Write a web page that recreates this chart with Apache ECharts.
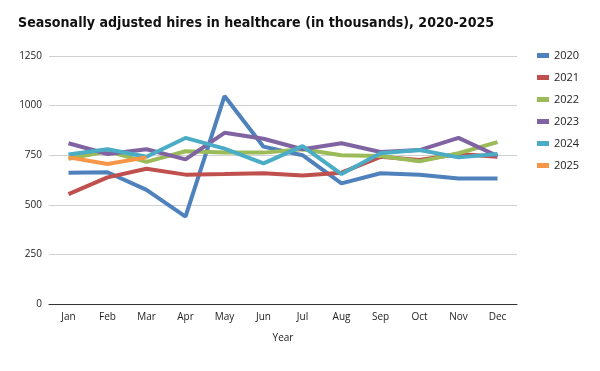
<!DOCTYPE html>
<html><head><meta charset="utf-8">
<script src="https://cdn.jsdelivr.net/npm/echarts@6/dist/echarts.min.js"></script>
<style>html,body{margin:0;padding:0;background:#fff}#c{width:600px;height:371px}</style>
</head><body><div id="c"></div>
<script>
const months = ['Jan','Feb','Mar','Apr','May','Jun','Jul','Aug','Sep','Oct','Nov','Dec'];
const y2020 = [662,664,575,440,1048,793,750,608,659,652,633,633];
const y2021 = [554,638,682,652,655,659,648,662,742,726,756,742];
const y2022 = [732,770,716,770,763,763,780,750,746,719,760,816];
const y2023 = [810,756,780,729,863,833,780,810,766,776,837,746];
const y2024 = [753,780,742,837,783,709,796,655,760,776,739,756];
const y2025 = [739,706,739];
const yTicks = [0,250,500,750,1000,1250];
const seriesNames = ['2020','2021','2022','2023','2024','2025'];
const seriesData = [y2020,y2021,y2022,y2023,y2024,y2025];
const colors = ['#4F81BD','#C0504D','#9BBB59','#8064A2','#4BACC6','#F79646'];

const chart = echarts.init(document.getElementById('c'));
chart.setOption({
  animation: false,
  color: colors,
  title: {
    text: 'Seasonally adjusted hires in healthcare (in thousands), 2020-2025',
    left: 13, top: 7,
    textStyle: {fontFamily: "'DejaVu Sans Condensed', Roboto, sans-serif", fontWeight: 'bold', fontSize: 14.1, color: '#111', lineHeight: 22}
  },
  legend: {
    orient: 'vertical', left: 532, top: 45, itemGap: 11,
    itemWidth: 12, itemHeight: 5, icon: 'rect',
    data: seriesNames,
    textStyle: {fontFamily: 'Open Sans', fontSize: 11, color: '#222'}
  },
  grid: {left: 49, right: 83, top: 56, bottom: 67},
  xAxis: {
    type: 'category', data: months, boundaryGap: true,
    name: 'Year', nameLocation: 'middle', nameGap: 29,
    nameTextStyle: {fontFamily: 'Open Sans', fontSize: 10, color: '#222'},
    axisLine: {lineStyle: {color: '#333', width: 1}},
    axisTick: {show: false},
    axisLabel: {fontFamily: 'Open Sans', fontSize: 10, color: '#222', margin: 8}
  },
  yAxis: {
    type: 'value', min: 0, max: 1250, interval: 250,
    axisLine: {show: false}, axisTick: {show: false},
    axisLabel: {fontFamily: 'Open Sans', fontSize: 10, color: '#222', margin: 7,
      formatter: v => String(v)},
    splitLine: {lineStyle: {color: '#d0d0d0', width: 1}}
  },
  series: seriesData.map((d, i) => ({
    name: seriesNames[i], type: 'line', data: d,
    symbol: 'none', lineStyle: {width: 4, color: colors[i]},
    itemStyle: {color: colors[i]}
  }))
});
</script></body></html>
